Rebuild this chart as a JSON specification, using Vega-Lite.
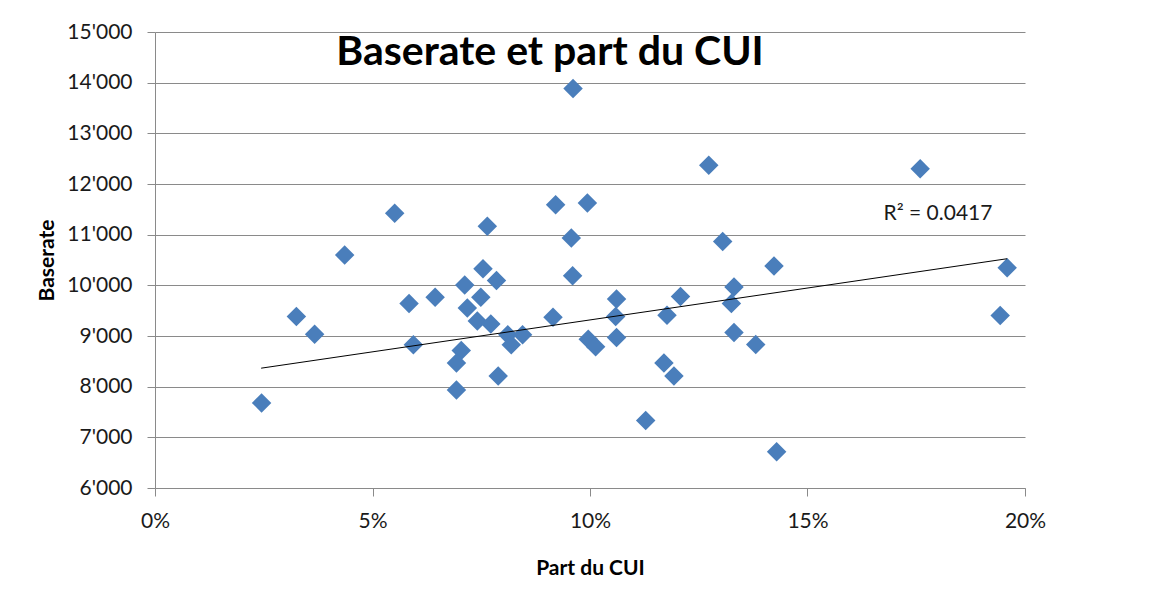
{
  "$schema": "https://vega.github.io/schema/vega-lite/v6.json",
  "autosize": {"type": "none"},
  "padding": {"left": 155, "top": 32, "right": 136, "bottom": 103},
  "width": 870,
  "height": 456,
  "background": "white",
  "title": {
    "text": "Baserate et part du CUI",
    "anchor": "middle",
    "frame": "group",
    "orient": "top",
    "offset": 0,
    "baseline": "alphabetic",
    "dx": -40,
    "dy": 85,
    "font": "Lato",
    "fontSize": 41,
    "fontWeight": "bold",
    "color": "#000000"
  },
  "config": {
    "view": {"stroke": null},
    "font": "Lato",
    "axis": {
      "gridColor": "#8a8a8a",
      "domainColor": "#8a8a8a",
      "tickColor": "#8a8a8a",
      "labelColor": "#1a1a1a",
      "titleColor": "#000000",
      "labelFont": "Lato",
      "labelFontSize": 21,
      "titleFont": "Lato",
      "titleFontSize": 21,
      "titleFontWeight": "bold",
      "tickSize": 8,
      "labelFlush": false
    }
  },
  "datasets": {
    "trend": [
      {"v": 0.0244, "b": 8365},
      {"v": 0.1959, "b": 10525}
    ]
  },
  "data": {
    "values": [
      {"v": 0.0245, "b": 7680},
      {"v": 0.0325, "b": 9385},
      {"v": 0.0367, "b": 9035},
      {"v": 0.0436, "b": 10600},
      {"v": 0.0584, "b": 9640},
      {"v": 0.0594, "b": 8825},
      {"v": 0.0551, "b": 11425},
      {"v": 0.0644, "b": 9765},
      {"v": 0.0712, "b": 10005},
      {"v": 0.0718, "b": 9555},
      {"v": 0.0741, "b": 9295},
      {"v": 0.0754, "b": 10325},
      {"v": 0.0749, "b": 9765},
      {"v": 0.0764, "b": 11165},
      {"v": 0.0785, "b": 10095},
      {"v": 0.0772, "b": 9235},
      {"v": 0.0704, "b": 8715},
      {"v": 0.0693, "b": 8465},
      {"v": 0.0693, "b": 7935},
      {"v": 0.0789, "b": 8210},
      {"v": 0.0811, "b": 9025},
      {"v": 0.0819, "b": 8825},
      {"v": 0.0845, "b": 9025},
      {"v": 0.0915, "b": 9370},
      {"v": 0.0921, "b": 11590},
      {"v": 0.0957, "b": 10935},
      {"v": 0.096, "b": 10190},
      {"v": 0.0994, "b": 11625},
      {"v": 0.0996, "b": 8935},
      {"v": 0.1013, "b": 8790},
      {"v": 0.0961, "b": 13885},
      {"v": 0.1273, "b": 12370},
      {"v": 0.1305, "b": 10865},
      {"v": 0.1423, "b": 10380},
      {"v": 0.1331, "b": 9965},
      {"v": 0.1325, "b": 9640},
      {"v": 0.1331, "b": 9070},
      {"v": 0.1381, "b": 8830},
      {"v": 0.1429, "b": 6715},
      {"v": 0.1128, "b": 7330},
      {"v": 0.117, "b": 8465},
      {"v": 0.1193, "b": 8210},
      {"v": 0.1177, "b": 9410},
      {"v": 0.1208, "b": 9780},
      {"v": 0.1061, "b": 9730},
      {"v": 0.1059, "b": 9385},
      {"v": 0.1061, "b": 8970},
      {"v": 0.1759, "b": 12300},
      {"v": 0.1959, "b": 10345},
      {"v": 0.1943, "b": 9405}
    ]
  },
  "layer": [
    {
      "mark": {"type": "point", "shape": "diamond", "filled": true, "size": 380, "color": "#4a7ebb", "opacity": 1},
      "encoding": {
        "x": {
          "field": "v", "type": "quantitative",
          "scale": {"domain": [0, 0.2], "nice": false, "zero": false},
          "axis": {"values": [0, 0.05, 0.1, 0.15, 0.2], "format": ".0%", "grid": false, "title": "Part du CUI", "labelPadding": 14, "titlePadding": 26}
        },
        "y": {
          "field": "b", "type": "quantitative",
          "scale": {"domain": [6000, 15000], "nice": false, "zero": false},
          "axis": {"values": [6000, 7000, 8000, 9000, 10000, 11000, 12000, 13000, 14000, 15000], "labelExpr": "replace(format(datum.value, ','), ',', \"'\")", "grid": true, "title": "Baserate", "labelPadding": 15, "titlePadding": 9}
        }
      }
    },
    {
      "data": {"name": "trend"},
      "mark": {"type": "line", "color": "#000000", "strokeWidth": 1},
      "encoding": {
        "x": {"field": "v", "type": "quantitative"},
        "y": {"field": "b", "type": "quantitative"}
      }
    },
    {
      "data": {"values": [{"v": 0.18, "b": 11413, "label": "R² = 0.0417"}]},
      "mark": {"type": "text", "font": "Lato", "fontSize": 21, "color": "#1a1a1a", "align": "center", "baseline": "middle"},
      "encoding": {
        "x": {"field": "v", "type": "quantitative"},
        "y": {"field": "b", "type": "quantitative"},
        "text": {"field": "label"}
      }
    }
  ]
}
